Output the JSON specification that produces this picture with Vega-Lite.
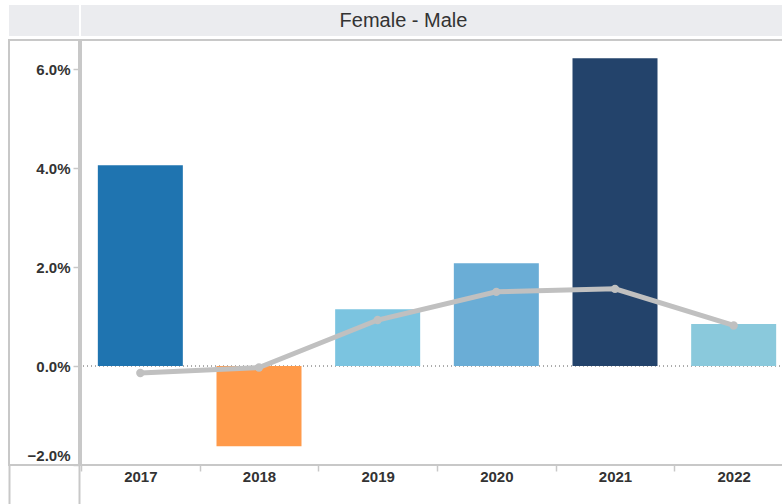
{
  "$schema": "https://vega.github.io/schema/vega-lite/v6.json",
  "padding": {"left": 7, "top": 5, "right": 0, "bottom": 0},
  "background": "white",
  "config": {"font": "Liberation Sans"},
  "datasets": {
    "header": [{"label": "Female - Male", "v": 0}],
    "main": [
      {"year": "2017", "diff": 0.0406, "avg": -0.0014},
      {"year": "2018", "diff": -0.0162, "avg": -0.0003},
      {"year": "2019", "diff": 0.0115, "avg": 0.0093},
      {"year": "2020", "diff": 0.0208, "avg": 0.0150},
      {"year": "2021", "diff": 0.0622, "avg": 0.0156},
      {"year": "2022", "diff": 0.0085, "avg": 0.0082}
    ]
  },
  "columns": 2,
  "align": "each",
  "spacing": {"row": 3, "column": -4},
  "concat": [
    {
      "width": 70,
      "height": 31,
      "view": {"fill": "#ebecef", "stroke": null},
      "data": {"name": "header"},
      "mark": {"type": "text", "text": ""},
      "encoding": {}
    },
    {
      "width": 703,
      "height": 31,
      "view": {"fill": "#ebecef", "stroke": null},
      "data": {"name": "header"},
      "mark": {"type": "text", "fontSize": 20, "color": "#333333", "font": "Liberation Sans", "dx": -29},
      "encoding": {"text": {"field": "label"}}
    },
    {
      "width": 70,
      "height": 425,
      "view": {"stroke": "#c8c8c8", "strokeWidth": 2},
      "data": {"name": "header"},
      "mark": {"type": "point", "opacity": 0},
      "encoding": {
        "x": {
          "field": "label", "type": "nominal",
          "scale": {"paddingInner": 0, "paddingOuter": 0},
          "axis": {
            "title": null, "labels": false, "domain": false, "grid": false,
            "tickBand": "extent", "tickExtra": true, "tickSize": 39, "tickWidth": 2, "tickColor": "#c8c8c8",
            "minExtent": 39, "maxExtent": 39
          }
        },
        "y": {
          "field": "v", "type": "quantitative",
          "scale": {"domain": [-0.02, 0.0659], "nice": false, "zero": false},
          "axis": {
            "orient": "left", "offset": -70, "title": null, "domain": false, "grid": false,
            "values": [-0.02, 0, 0.02, 0.04, 0.06], "format": ".1%",
            "labelFontSize": 15, "labelFontWeight": "bold", "labelColor": "#333333",
            "labelFlush": false,
            "labelOffset": {"condition": {"test": "datum.value < -0.01", "value": -10}, "value": 0},
            "tickSize": 6, "tickColor": "#c8c8c8", "tickWidth": 1.5,
            "labelPadding": 3, "minExtent": 0, "maxExtent": 70
          }
        }
      }
    },
    {
      "width": 703,
      "height": 425,
      "view": {"stroke": "#c8c8c8", "strokeWidth": 2},
      "data": {"name": "main"},
      "layer": [
        {
          "mark": {"type": "rule", "strokeDash": [1, 3], "color": "#aaaaaa", "strokeWidth": 1},
          "encoding": {"y": {"datum": 0, "type": "quantitative", "axis": null}}
        },
        {
          "mark": {"type": "bar", "width": 85},
          "encoding": {
            "x": {
              "field": "year", "type": "nominal", "sort": null,
              "scale": {"range": [0, 712], "paddingInner": 0, "paddingOuter": 0},
              "axis": {
                "title": null, "domain": false, "labelAngle": 0,
                "labelFontSize": 15, "labelFontWeight": "bold", "labelColor": "#333333",
                "tickBand": "extent", "tickExtra": false, "tickSize": 6, "tickColor": "#c8c8c8", "tickWidth": 1.5,
                "labelPadding": -2, "minExtent": 39, "maxExtent": 39, "grid": false
              }
            },
            "y": {
              "field": "diff", "type": "quantitative",
              "scale": {"domain": [-0.02, 0.0659], "nice": false, "zero": false},
              "axis": null
            },
            "color": {
              "field": "year", "type": "nominal", "legend": null,
              "scale": {
                "domain": ["2017", "2018", "2019", "2020", "2021", "2022"],
                "range": ["#1f74b0", "#ff9a4a", "#7bc4e0", "#6aadd6", "#23436b", "#8ac9dc"]
              }
            }
          }
        },
        {
          "mark": {
            "type": "line", "color": "#c0c0c0", "strokeWidth": 5,
            "point": {"filled": true, "size": 70, "color": "#c0c0c0"}
          },
          "encoding": {
            "x": {"field": "year", "type": "nominal", "sort": null},
            "y": {"field": "avg", "type": "quantitative", "axis": null}
          }
        }
      ]
    }
  ]
}
